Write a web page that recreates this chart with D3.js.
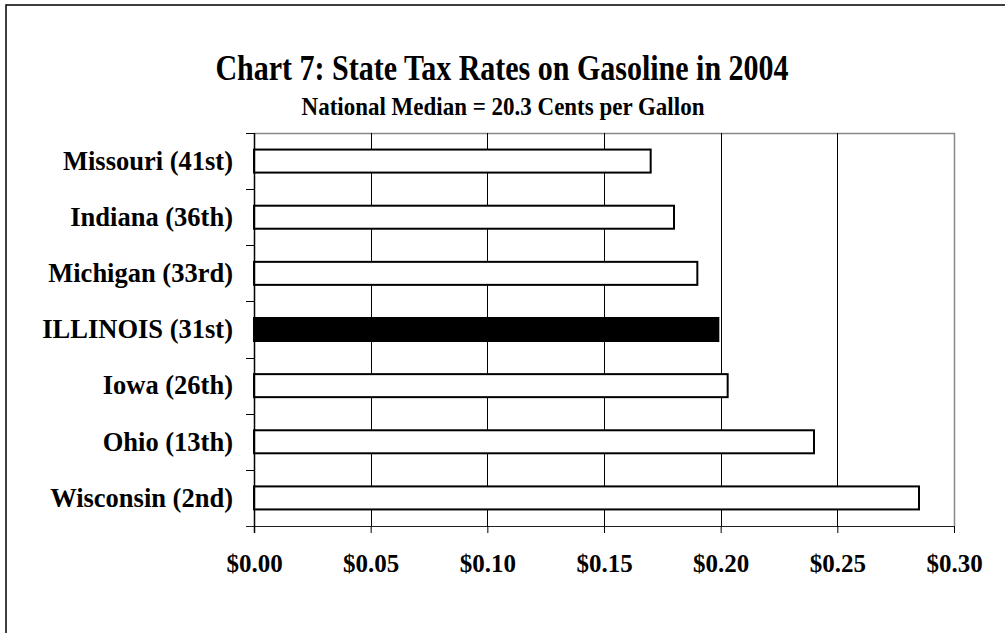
<!DOCTYPE html>
<html>
<head>
<meta charset="utf-8">
<script src="https://cdn.jsdelivr.net/npm/d3@7"></script>
<style>
  body { margin: 0; background: #fff; }
  text { font-family: "Liberation Serif", "Times New Roman", serif; font-weight: bold; fill: #000; }
</style>
</head>
<body>
<svg id="chart" width="1005" height="633"></svg>
<script>
var states = ["Missouri (41st)", "Indiana (36th)", "Michigan (33rd)", "ILLINOIS (31st)",
              "Iowa (26th)", "Ohio (13th)", "Wisconsin (2nd)"];
var rates = [0.170, 0.180, 0.190, 0.199, 0.203, 0.240, 0.285];
var highlight = ["ILLINOIS (31st)"];
var xTicks = [0, 0.05, 0.10, 0.15, 0.20, 0.25, 0.30];

var data = states.map(function (s, i) { return { name: s, rate: rates[i] }; });

var plotLeft = 254, plotRight = 954, plotTop = 133, plotBottom = 526;

var svg = d3.select("#chart");

// outer frame
svg.append("rect")
    .attr("x", 6).attr("y", 5)
    .attr("width", 1100).attr("height", 700)
    .attr("fill", "none").attr("stroke", "#000").attr("stroke-width", 1.5);

// title text in the original is taller than it is wide, so stretch it a bit
svg.append("text")
    .attr("transform", "translate(502,80) scale(1,1.22)")
    .attr("text-anchor", "middle")
    .style("font-size", "30px")
    .text("Chart 7: State Tax Rates on Gasoline in 2004");

svg.append("text")
    .attr("transform", "translate(503,115) scale(1,1.12)")
    .attr("text-anchor", "middle")
    .style("font-size", "23px")
    .text("National Median = 20.3 Cents per Gallon");

var x = d3.scaleLinear().domain([0, 0.30]).range([plotLeft, plotRight]);
var y = d3.scaleBand().domain(states).range([plotTop, plotBottom]).paddingInner(0.59).paddingOuter(0.295);

// plot border (top/right)
svg.append("path")
    .attr("d", "M" + plotLeft + "," + (plotTop + 0.5) + "H" + (plotRight + 0.5) + "V" + plotBottom)
    .attr("fill", "none").attr("stroke", "#888").attr("stroke-width", 1.5);

// gridlines
svg.append("g")
    .selectAll("line")
    .data(xTicks.slice(1, -1))
    .enter().append("line")
    .attr("x1", function (d) { return Math.round(x(d)) + 0.5; })
    .attr("x2", function (d) { return Math.round(x(d)) + 0.5; })
    .attr("y1", plotTop).attr("y2", plotBottom)
    .attr("stroke", "#000").attr("stroke-width", 1);

// bars
svg.append("g")
    .selectAll("rect")
    .data(data)
    .enter().append("rect")
    .attr("x", x(0))
    .attr("y", function (d) { return y(d.name); })
    .attr("width", function (d) { return x(d.rate) - x(0); })
    .attr("height", y.bandwidth())
    .attr("fill", function (d) { return highlight.indexOf(d.name) >= 0 ? "#000" : "#fff"; })
    .attr("stroke", "#000").attr("stroke-width", 2);

// x axis
var xAxis = d3.axisBottom(x)
    .tickValues(xTicks)
    .tickFormat(d3.format("$.2f"))
    .tickSizeInner(7).tickSizeOuter(0).tickPadding(21);

var gx = svg.append("g")
    .attr("transform", "translate(0," + plotBottom + ")")
    .call(xAxis);
gx.select(".domain").attr("stroke", "#222").attr("d", "M" + (plotLeft - 8) + ",0.5H" + plotRight);
gx.selectAll(".tick line").attr("stroke", "#000");
gx.selectAll("text").style("font-size", "25px")
    .style("font-family", "'Liberation Serif', serif").style("font-weight", "bold");

// y axis: labels + ticks at band boundaries
var gy = svg.append("g");
gy.append("line")
    .attr("x1", plotLeft + 0.5).attr("x2", plotLeft + 0.5)
    .attr("y1", plotTop).attr("y2", plotBottom + 7)
    .attr("stroke", "#000").attr("stroke-width", 1.5);

var step = y.step();
var bounds = d3.range(states.length).map(function (i) { return plotTop + i * step; });
gy.selectAll("line.tk")
    .data(bounds)
    .enter().append("line")
    .attr("class", "tk")
    .attr("x1", plotLeft - 8).attr("x2", plotLeft)
    .attr("y1", function (d) { return Math.round(d) + 0.5; })
    .attr("y2", function (d) { return Math.round(d) + 0.5; })
    .attr("stroke", "#000");

gy.selectAll("text")
    .data(data)
    .enter().append("text")
    .attr("x", 233)
    .attr("y", function (d) { return y(d.name) + y.bandwidth() / 2; })
    .attr("dy", "0.33em")
    .attr("text-anchor", "end")
    .style("font-size", "26.5px")
    .text(function (d) { return d.name; });
</script>
</body>
</html>
